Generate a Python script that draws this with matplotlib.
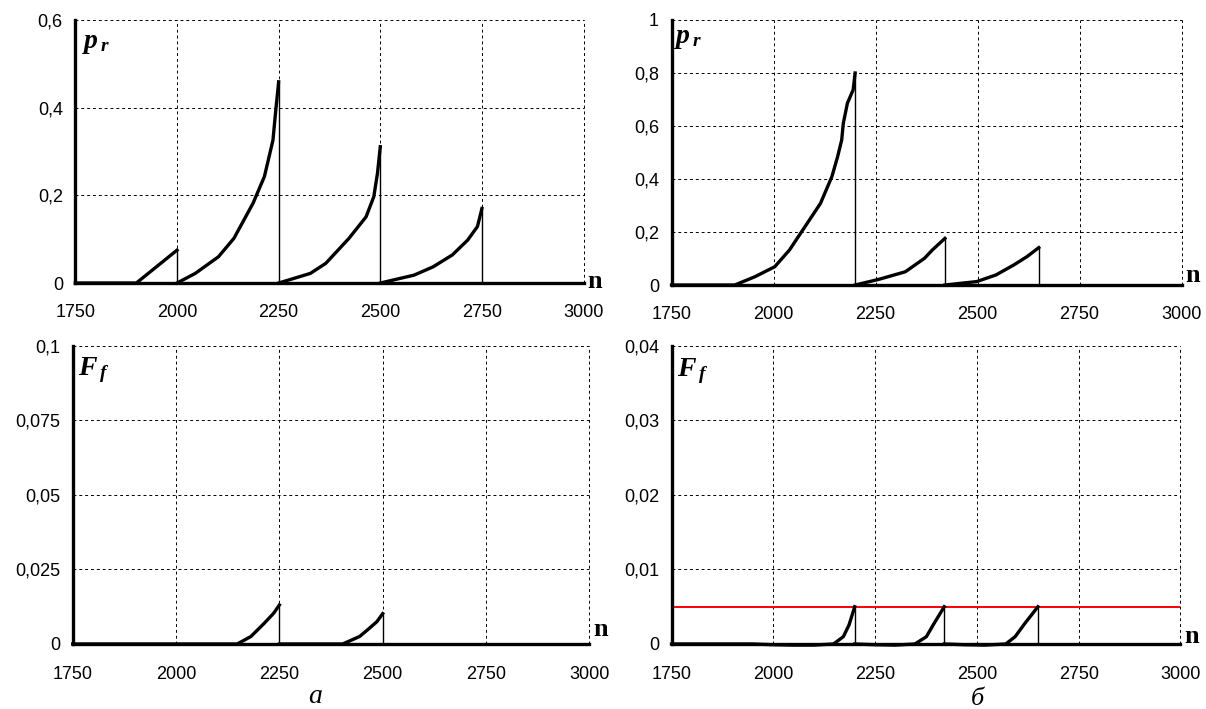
import matplotlib
matplotlib.use('Agg')
import matplotlib.pyplot as plt
from matplotlib.ticker import FuncFormatter
from matplotlib.transforms import offset_copy

plt.rcParams['font.family'] = ['Liberation Sans', 'DejaVu Sans']
plt.rcParams['mathtext.fontset'] = 'custom'
plt.rcParams['mathtext.it'] = 'Liberation Serif:italic:bold'
plt.rcParams['mathtext.rm'] = 'Liberation Serif:bold'

x_ticks = [1750, 2000, 2250, 2500, 2750, 3000]

# p_r, вариант а
pr_a_n = [
    [1750, 1900, 2000],
    [2000, 2045, 2102, 2140, 2187, 2215, 2236, 2243, 2250],
    [2250, 2328, 2366, 2423, 2465, 2484, 2493, 2500],
    [2500, 2583, 2630, 2677, 2715, 2739, 2750],
]
pr_a_v = [
    [0, 0, 0.075],
    [0, 0.022, 0.060, 0.102, 0.182, 0.243, 0.326, 0.395, 0.459],
    [0, 0.022, 0.045, 0.102, 0.151, 0.197, 0.250, 0.311],
    [0, 0.018, 0.037, 0.064, 0.098, 0.129, 0.170],
]
pr_a_ticks = [0, 0.2, 0.4, 0.6]

# p_r, вариант б
pr_b_n = [
    [1750, 1905, 1954, 2003, 2039, 2077, 2115, 2143, 2157, 2167, 2171, 2181, 2195, 2200],
    [2200, 2257, 2323, 2370, 2389, 2420],
    [2420, 2498, 2545, 2588, 2621, 2650],
]
pr_b_v = [
    [0, 0, 0.031, 0.069, 0.132, 0.220, 0.308, 0.409, 0.484, 0.547, 0.610, 0.686, 0.736, 0.800],
    [0, 0.021, 0.050, 0.101, 0.132, 0.176],
    [0, 0.013, 0.038, 0.075, 0.107, 0.141],
]
pr_b_ticks = [0, 0.2, 0.4, 0.6, 0.8, 1]

# F_f, вариант а
ff_a_n = [
    [1750, 2148, 2181, 2213, 2236, 2250],
    [2250, 2403, 2444, 2468, 2486, 2500],
]
ff_a_v = [
    [0, 0, 0.0025, 0.0069, 0.0103, 0.0131],
    [0, 0, 0.0025, 0.0053, 0.0075, 0.0102],
]
ff_a_ticks = [0, 0.025, 0.05, 0.075, 0.1]

# F_f, вариант б
ff_b_n = [
    [1750, 1950, 2000, 2050, 2100, 2148, 2172, 2186, 2200],
    [2200, 2250, 2300, 2348, 2376, 2395, 2420],
    [2420, 2470, 2520, 2571, 2594, 2618, 2650],
]
ff_b_v = [
    [0, 0, -0.0001, -0.00015, -0.00015, 0, 0.00098, 0.00255, 0.005],
    [0, -0.0001, -0.00015, 0, 0.00098, 0.00277, 0.005],
    [0, -0.0001, -0.00015, 0, 0.00098, 0.00277, 0.005],
]
ff_b_ticks = [0, 0.01, 0.02, 0.03, 0.04]
ff_b_limit = 0.005


def fmt(v, pos=None):
    return f'{v:g}'.replace('.', ',')


def draw_panel(rect, seg_n, seg_v, yticks, ylabel, xpad, lab_xy, n_dy):
    ax = fig.add_axes(rect)
    ax.set_xlim(x_ticks[0], x_ticks[-1])
    ax.set_ylim(yticks[0], yticks[-1])
    ax.set_xticks(x_ticks)
    ax.set_yticks(yticks)
    ax.yaxis.set_major_formatter(FuncFormatter(fmt))
    ax.tick_params(length=0, labelsize=13, pad=9)
    ax.tick_params(axis='x', pad=xpad)
    ax.grid(True, color='black', linestyle=(0, (3, 3)), linewidth=0.7)
    for gl in ax.get_xgridlines() + ax.get_ygridlines():
        gl.set_clip_on(False)
    for s in ['top', 'right']:
        ax.spines[s].set_visible(False)
    for s in ['left', 'bottom']:
        ax.spines[s].set_linewidth(2.4)
        ax.spines[s].set_zorder(5)
    for n, v in zip(seg_n, seg_v):
        ax.plot(n, v, color='black', linewidth=2.4, solid_joinstyle='round', zorder=4, clip_on=False)
        ax.vlines(n[-1], 0, v[-1], color='black', linewidth=1.0, zorder=4)
    ax.text(lab_xy[0], lab_xy[1], ylabel, transform=ax.transAxes, fontsize=20,
            va='baseline', ha='left')
    tr = offset_copy(ax.transAxes, fig=fig, x=3, y=n_dy * 0.72, units='points')
    ax.text(1.0, 0.0, 'n', transform=tr, fontsize=19, fontweight='bold',
            family='Liberation Serif', ha='left', va='center')
    return ax


fig = plt.figure(figsize=(12.06, 7.09), dpi=100)

draw_panel([0.0625, 0.6008, 0.4214, 0.371], pr_a_n, pr_a_v, pr_a_ticks,
           r'$p_{\,r}$', 15, (0.013, 0.894), 2)
draw_panel([0.5568, 0.598, 0.423, 0.3738], pr_b_n, pr_b_v, pr_b_ticks,
           r'$p_{\,r}$', 15, (0.004, 0.913), 10)
draw_panel([0.0603, 0.0917, 0.4284, 0.4203], ff_a_n, ff_a_v, ff_a_ticks,
           r'$F_{\,f}$', 16, (0.01, 0.903), 14)
ax4 = draw_panel([0.5568, 0.0917, 0.422, 0.4203], ff_b_n, ff_b_v, ff_b_ticks,
                 r'$F_{\,f}$', 16, (0.011, 0.898), 7)
ax4.axhline(ff_b_limit, color='red', linewidth=1.4, zorder=3)

fig.text(315 / 1206, 1 - 703 / 709, 'а', fontsize=20, style='italic', family='Liberation Serif',
         ha='center', va='baseline')
fig.text(977 / 1206, 1 - 705 / 709, 'б', fontsize=19, style='italic', family='Liberation Serif',
         ha='center', va='baseline')

fig.savefig('out.png', dpi=100)
